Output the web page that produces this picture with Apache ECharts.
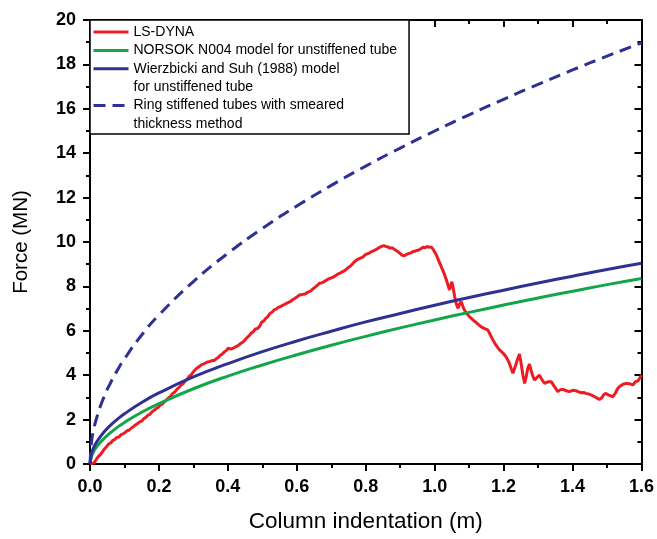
<!DOCTYPE html>
<html>
<head>
<meta charset="utf-8">
<script src="https://cdn.jsdelivr.net/npm/echarts@6/dist/echarts.min.js"></script>
<style>
    html, body { margin: 0; padding: 0; background: #fff; }
    #graph { width: 657px; height: 539px; }
</style>
</head>
<body>
<div id="graph"></div>
<script>
// data: indentation (m) / force (MN)
var dynaX = [0, 0.012, 0.018, 0.024, 0.03, 0.036, 0.042, 0.048, 0.054, 0.06, 0.066, 0.072, 0.078, 0.084, 0.09, 0.096,
    0.102, 0.108, 0.114, 0.12, 0.126, 0.132, 0.138, 0.144, 0.15, 0.156, 0.162, 0.168, 0.174, 0.18, 0.186, 0.192,
    0.198, 0.204, 0.21, 0.216, 0.222, 0.228, 0.234, 0.24, 0.246, 0.252, 0.258, 0.264, 0.27, 0.276, 0.282, 0.288,
    0.294, 0.3, 0.306, 0.312, 0.318, 0.324, 0.33, 0.336, 0.342, 0.348, 0.354, 0.36, 0.366, 0.372, 0.378, 0.384,
    0.39, 0.396, 0.402, 0.408, 0.414, 0.42, 0.426, 0.432, 0.438, 0.444, 0.45, 0.456, 0.462, 0.468, 0.474, 0.48,
    0.486, 0.492, 0.498, 0.504, 0.51, 0.516, 0.522, 0.528, 0.534, 0.54, 0.546, 0.552, 0.558, 0.564, 0.57, 0.576,
    0.582, 0.588, 0.594, 0.6, 0.606, 0.612, 0.618, 0.624, 0.63, 0.636, 0.642, 0.648, 0.654, 0.66, 0.666, 0.672,
    0.678, 0.684, 0.69, 0.696, 0.702, 0.708, 0.714, 0.72, 0.726, 0.732, 0.738, 0.744, 0.75, 0.756, 0.762, 0.768,
    0.774, 0.78, 0.786, 0.792, 0.798, 0.804, 0.81, 0.816, 0.822, 0.828, 0.834, 0.84, 0.846, 0.852, 0.858, 0.864,
    0.87, 0.876, 0.882, 0.888, 0.894, 0.9, 0.906, 0.912, 0.918, 0.924, 0.93, 0.936, 0.942, 0.948, 0.954, 0.96,
    0.966, 0.972, 0.978, 0.984, 0.99, 0.996,
    1.005, 1.012, 1.019, 1.027, 1.034, 1.043, 1.05, 1.054, 1.058, 1.063, 1.068, 1.072, 1.077, 1.084, 1.092, 1.1,
    1.111, 1.122, 1.135, 1.145, 1.154, 1.162, 1.169, 1.178, 1.188, 1.198, 1.207, 1.215, 1.222, 1.227, 1.234, 1.24,
    1.246, 1.251, 1.256, 1.261, 1.265, 1.27, 1.275, 1.28, 1.285, 1.29, 1.297, 1.304, 1.311, 1.319, 1.328, 1.338,
    1.347, 1.357, 1.365, 1.372, 1.382, 1.391, 1.4, 1.41, 1.418, 1.425, 1.432, 1.439, 1.447, 1.454, 1.462, 1.47,
    1.478, 1.485, 1.49, 1.497, 1.505, 1.51, 1.517, 1.525, 1.53, 1.536, 1.545, 1.555, 1.565, 1.575, 1.582, 1.59,
    1.595, 1.6];
var dynaF = [0, 0.05, 0.2, 0.33, 0.42, 0.55, 0.68, 0.78, 0.9, 0.95, 1.06, 1.1, 1.2, 1.22, 1.32, 1.36,
    1.42, 1.5, 1.53, 1.62, 1.68, 1.76, 1.82, 1.9, 1.93, 2.04, 2.1, 2.2, 2.24, 2.35, 2.42, 2.5,
    2.55, 2.66, 2.7, 2.8, 2.88, 2.98, 3.06, 3.18, 3.24, 3.36, 3.44, 3.55, 3.62, 3.74, 3.82, 3.95,
    4.02, 4.16, 4.26, 4.34, 4.4, 4.48, 4.5, 4.56, 4.6, 4.62, 4.66, 4.66, 4.74, 4.8, 4.9, 4.96,
    5.05, 5.12, 5.22, 5.18, 5.2, 5.26, 5.3, 5.36, 5.44, 5.5, 5.6, 5.7, 5.78, 5.9, 5.96, 6.08,
    6.1, 6.2, 6.38, 6.44, 6.56, 6.64, 6.78, 6.84, 6.94, 6.98, 7.06, 7.08, 7.14, 7.18, 7.24, 7.28,
    7.32, 7.4, 7.46, 7.52, 7.6, 7.62, 7.64, 7.66, 7.72, 7.76, 7.82, 7.9, 7.98, 8.06, 8.14, 8.16,
    8.2, 8.26, 8.32, 8.36, 8.4, 8.44, 8.5, 8.56, 8.6, 8.66, 8.7, 8.78, 8.86, 8.92, 9.02, 9.12,
    9.2, 9.24, 9.28, 9.32, 9.42, 9.46, 9.5, 9.56, 9.6, 9.64, 9.7, 9.76, 9.8, 9.84, 9.8, 9.78,
    9.72, 9.74, 9.68, 9.62, 9.56, 9.48, 9.4, 9.38, 9.44, 9.48, 9.5, 9.56, 9.58, 9.62, 9.64, 9.7,
    9.76, 9.74, 9.8, 9.76, 9.78, 9.66,
    9.41, 9.15, 8.89, 8.6, 8.29, 7.84, 8.21, 7.9, 7.54, 7.2, 7.01, 7.2, 7.31, 7.0, 6.79, 6.65,
    6.49, 6.35, 6.18, 6.1, 6.04, 5.8, 5.59, 5.35, 5.14, 5.0, 4.83, 4.6, 4.3, 4.09, 4.4, 4.7,
    4.95, 4.5, 4.0, 3.63, 3.9, 4.3, 4.5, 4.2, 3.95, 3.78, 3.9, 4.0, 3.8, 3.63, 3.7, 3.71,
    3.5, 3.26, 3.35, 3.36, 3.3, 3.26, 3.32, 3.3, 3.25, 3.21, 3.22, 3.18, 3.15, 3.11, 3.05, 2.98,
    2.91, 2.98, 3.12, 3.18, 3.1, 3.05, 3.03, 3.2, 3.38, 3.48, 3.58, 3.63, 3.62, 3.56, 3.7, 3.75,
    3.68, 4.0];

var modelX = [0, 0.005, 0.01, 0.02, 0.04, 0.06, 0.08, 0.1, 0.15, 0.2, 0.3, 0.4, 0.5, 0.6, 0.7, 0.8, 0.9,
    1.0, 1.1, 1.2, 1.3, 1.4, 1.5, 1.6];
var norsokF = [0, 0.37, 0.54, 0.79, 1.14, 1.42, 1.66, 1.87, 2.33, 2.72, 3.39, 3.96, 4.46, 4.92, 5.35, 5.75, 6.13,
    6.49, 6.83, 7.16, 7.48, 7.78, 8.08, 8.36];
var wierzbickiF = [0, 0.51, 0.72, 1.01, 1.43, 1.75, 2.02, 2.26, 2.77, 3.2, 3.92, 4.52, 5.06, 5.54, 5.98, 6.4, 6.78,
    7.15, 7.5, 7.83, 8.15, 8.46, 8.76, 9.04];
var ringF = [0, 1.06, 1.5, 2.12, 3.0, 3.67, 4.24, 4.74, 5.81, 6.71, 8.22, 9.49, 10.61, 11.62, 12.55, 13.42, 14.23,
    15.0, 15.73, 16.43, 17.1, 17.75, 18.37, 18.97];

var legendNames = ['LS-DYNA', 'NORSOK N004 model for unstiffened tube', 'Wierzbicki and Suh (1988) model',
    'for unstiffened tube', 'Ring stiffened tubes with smeared', 'thickness method'];

var xTicks = { min: 0, max: 1.6, interval: 0.2 };
var yTicks = { min: 0, max: 20, interval: 2 };

function pairs(xs, ys) {
    return xs.map(function (x, i) { return [x, ys[i]]; });
}

var font = "'Liberation Sans', Arial, sans-serif";
var myChart = echarts.init(document.getElementById('graph'));

function frameAxis(pos, ticks, extra) {
    var ax = {
        type: 'value',
        position: pos,
        min: ticks.min,
        max: ticks.max,
        interval: ticks.interval,
        axisLine: { show: true, onZero: false, lineStyle: { color: '#000', width: 2 } },
        axisTick: { show: true, inside: pos === 'top' || pos === 'right', length: 7, lineStyle: { color: '#000', width: 2 } },
        minorTick: { show: true, splitNumber: 2, length: 4, lineStyle: { color: '#000', width: 2 } },
        splitLine: { show: false },
        axisLabel: { show: false }
    };
    for (var k in extra) ax[k] = extra[k];
    return ax;
}

var lineFor = function (name, color, width, type) {
    return { name: name, type: 'line', symbol: 'none', lineStyle: { color: color, width: width, type: type || 'solid' },
        itemStyle: { color: color, opacity: 0 } };
};

var s1 = lineFor('LS-DYNA', '#ed1c24', 3);
s1.data = pairs(dynaX, dynaF);
var s2 = lineFor(legendNames[1], '#12a54a', 3);
s2.data = pairs(modelX, norsokF);
s2.smooth = true;
var s3 = lineFor(legendNames[2], '#2e3192', 3);
s3.data = pairs(modelX, wierzbickiF);
s3.smooth = true;
var s4 = lineFor(legendNames[4], '#2e3192', 3, [12, 7]);
s4.data = pairs(modelX, ringF);
s4.smooth = true;
// empty series only to carry the second line of the two-line legend entries
var d1 = lineFor(legendNames[3], 'rgba(0,0,0,0)', 3);
d1.data = [];
var d2 = lineFor(legendNames[5], 'rgba(0,0,0,0)', 3);
d2.data = [];

var option = {
    animation: false,
    backgroundColor: '#fff',
    grid: { left: 90, right: 15, top: 20, bottom: 75, containLabel: false },
    legend: {
        orient: 'vertical',
        left: 90,
        top: 20,
        padding: [3, 12, 1, 2],
        itemGap: 0.4,
        itemWidth: 35,
        itemHeight: 14,
        borderColor: '#000',
        borderWidth: 1.5,
        borderRadius: 0,
        backgroundColor: '#fff',
        selectedMode: false,
        itemStyle: { opacity: 0 },
        lineStyle: { width: 3 },
        textStyle: { fontSize: 14, lineHeight: 18, color: '#000', fontFamily: font },
        data: legendNames
    },
    xAxis: [
        frameAxis('bottom', xTicks, {
            name: 'Column indentation (m)',
            nameLocation: 'middle',
            nameGap: 46,
            nameTextStyle: { fontSize: 22.5, color: '#000', fontFamily: font },
            axisLabel: { show: true, margin: 14, fontSize: 18, fontWeight: 'bold', color: '#000', fontFamily: font,
                formatter: function (v) { return v.toFixed(1); } }
        }),
        frameAxis('top', xTicks, {})
    ],
    yAxis: [
        frameAxis('left', yTicks, {
            name: 'Force (MN)',
            nameLocation: 'middle',
            nameGap: 58,
            nameTextStyle: { fontSize: 20.5, color: '#000', fontFamily: font },
            axisLabel: { show: true, margin: 14, fontSize: 18, fontWeight: 'bold', color: '#000', fontFamily: font }
        }),
        frameAxis('right', yTicks, {})
    ],
    series: [s1, s2, s3, d1, s4, d2]
};

myChart.setOption(option);
</script>
</body>
</html>
